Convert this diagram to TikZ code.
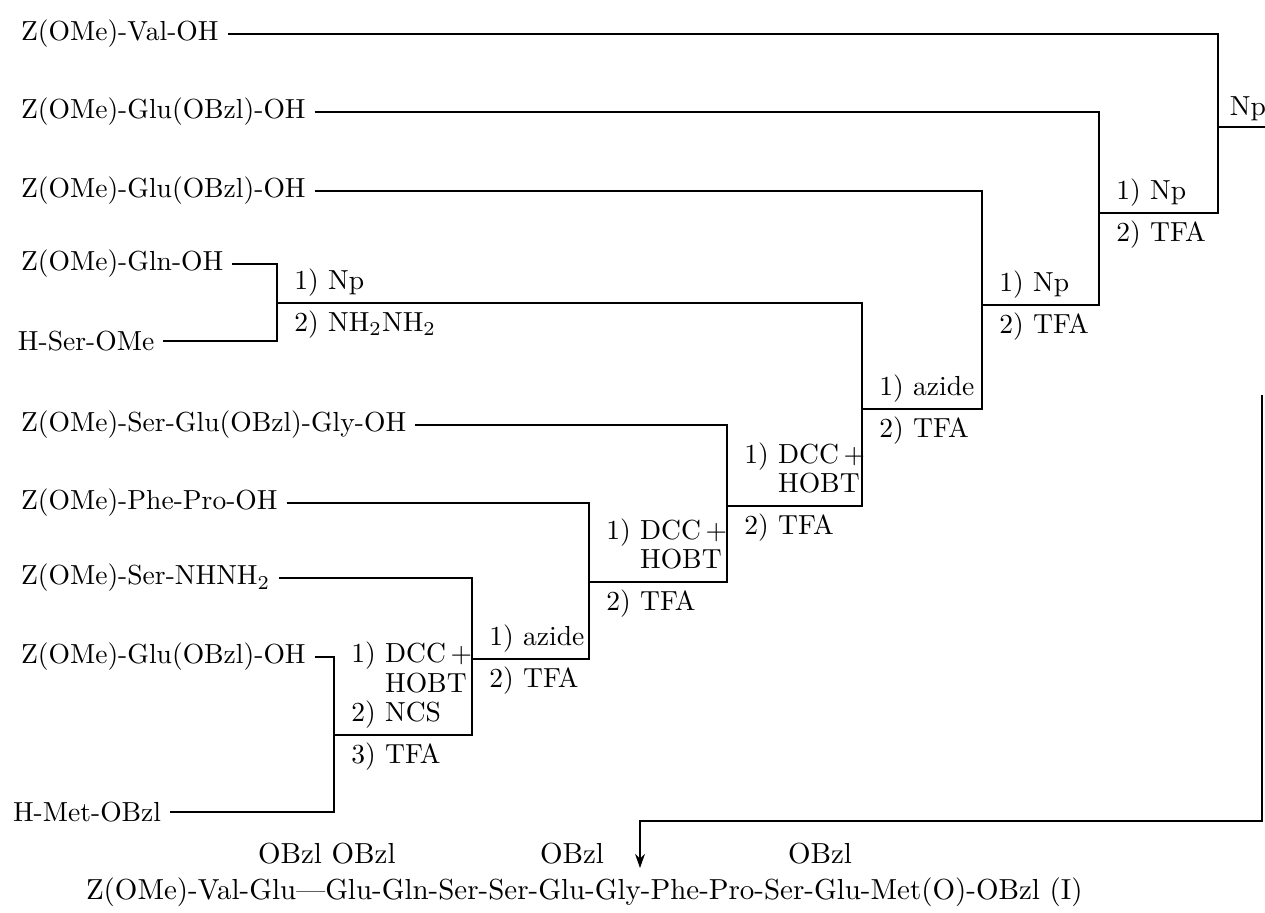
\documentclass[tikz,border=0pt]{standalone}
\usepackage{tikz}
\usetikzlibrary{arrows.meta, positioning}

\begin{document}
\begin{tikzpicture}[
  x=0.0125cm, y=-0.0125cm,
  cpd/.style={anchor=west, inner sep=3pt, font=\fontsize{9.8}{11}\selectfont},
  prd/.style={anchor=west, inner sep=3pt, font=\fontsize{10.3}{12}\selectfont},
  cond/.style={align=left, inner sep=1pt, font=\fontsize{9.8}{10.5}\selectfont},
  link/.style={line width=0.6pt},
  final/.style={line width=0.6pt, -{Stealth[length=5pt, width=3.5pt]}}
]
\useasboundingbox (0,0) rectangle (1265,912);

% starting materials
\node[cpd] (val)    at (12,34)  {Z(OMe)-Val-OH};
\node[cpd] (glua)   at (12,112) {Z(OMe)-Glu(OBzl)-OH};
\node[cpd] (glub)   at (12,191) {Z(OMe)-Glu(OBzl)-OH};
\node[cpd] (gln)    at (12,264) {Z(OMe)-Gln-OH};
\node[cpd] (serome) at (9,341)  {H-Ser-OMe};
\node[cpd] (sgg)    at (12,425) {Z(OMe)-Ser-Glu(OBzl)-Gly-OH};
\node[cpd] (phepro) at (12,503) {Z(OMe)-Phe-Pro-OH};
\node[cpd] (serhyd) at (12,578) {Z(OMe)-Ser-NHNH$_2$};
\node[cpd] (gluc)   at (12,657) {Z(OMe)-Glu(OBzl)-OH};
\node[cpd] (met)    at (4,812)  {H-Met-OBzl};

% coupling steps
\coordinate (s1) at (277,303);
\coordinate (s2) at (334,735);
\coordinate (s3) at (472,659);
\coordinate (s4) at (589,582);
\coordinate (s5) at (727,506);
\coordinate (s6) at (862,409);
\coordinate (s7) at (982,305);
\coordinate (s8) at (1099,213);
\coordinate (s9) at (1218,127);
\coordinate (npend) at (1265,127);
\coordinate (ret)  at (1262,395);
\coordinate (turn) at (640,821);
\coordinate (tip)  at (640,868);

\draw[link] (gln) -| (s1) |- (serome);
\draw[link] (gluc) -| (s2) |- (met);
\draw[link] (serhyd) -| (s3) |- (s2);
\draw[link] (phepro) -| (s4) |- (s3);
\draw[link] (sgg) -| (s5) |- (s4);
\draw[link] (s1) -| (s6) |- (s5);
\draw[link] (glub) -| (s7) |- (s6);
\draw[link] (glua) -| (s8) |- (s7);
\draw[link] (val) -| (s9) |- (s8);
\draw[link] (s9) -- (npend);
\draw[final] (ret) |- (turn) -- (tip);

% conditions
\node[cond, above right=1pt and 5pt of s1] (c1a) {1) Np};
\node[cond, below right=1.5pt and 5pt of s1] (c1b) {2) NH$_2$NH$_2$};
\node[cond, above right=1pt and 5pt of s2] (c2a) {1) DCC\,+\\\phantom{1) }HOBT\\2) NCS};
\node[cond, below right=1.5pt and 5pt of s2] (c2b) {3) TFA};
\node[cond, above right=1pt and 5pt of s3] (c3a) {1) azide};
\node[cond, below right=1.5pt and 5pt of s3] (c3b) {2) TFA};
\node[cond, above right=1pt and 5pt of s4] (c4a) {1) DCC\,+\\\phantom{1) }HOBT};
\node[cond, below right=1.5pt and 5pt of s4] (c4b) {2) TFA};
\node[cond, above right=1pt and 5pt of s5] (c5a) {1) DCC\,+\\\phantom{1) }HOBT};
\node[cond, below right=1.5pt and 5pt of s5] (c5b) {2) TFA};
\node[cond, above right=1pt and 5pt of s6] (c6a) {1) azide};
\node[cond, below right=1.5pt and 5pt of s6] (c6b) {2) TFA};
\node[cond, above right=1pt and 5pt of s7] (c7a) {1) Np};
\node[cond, below right=1.5pt and 5pt of s7] (c7b) {2) TFA};
\node[cond, above right=1pt and 5pt of s8] (c8a) {1) Np};
\node[cond, below right=1.5pt and 5pt of s8] (c8b) {2) TFA};
\node[cond, above right=1pt and 3pt of s9] (c9)  {Np};

% product
\node[prd] (bz1)  at (249,854) {OBzl OBzl};
\node[prd] (bz2)  at (531,854) {OBzl};
\node[prd] (bz3)  at (779,854) {OBzl};
\node[prd] (prod) at (77,892)  {Z(OMe)-Val-Glu---Glu-Gln-Ser-Ser-Glu-Gly-Phe-Pro-Ser-Glu-Met(O)-OBzl (I)};
\end{tikzpicture}
\end{document}
